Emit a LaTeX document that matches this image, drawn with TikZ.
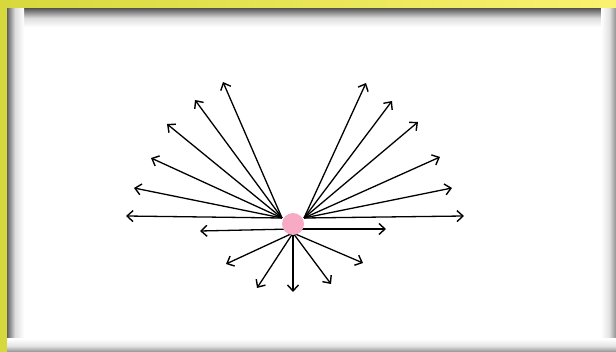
\documentclass[tikz,border=0pt]{standalone}
\usetikzlibrary{arrows.meta}

\definecolor{frameyellow}{RGB}{214,216,60}
\definecolor{frameyellowlight}{RGB}{250,242,112}
\definecolor{dotpink}{RGB}{248,170,196}
\definecolor{shadowgray}{RGB}{96,96,96}

\pgfdeclareverticalshading{edgetop}{100bp}{color(0bp)=(white); color(25bp)=(white); color(50bp)=(shadowgray!22); color(75bp)=(shadowgray); color(100bp)=(shadowgray)}
\pgfdeclareverticalshading{edgebottom}{100bp}{color(0bp)=(shadowgray!70); color(25bp)=(shadowgray!70); color(48bp)=(shadowgray!18); color(75bp)=(white); color(100bp)=(white)}
\pgfdeclarehorizontalshading{edgeleft}{100bp}{color(0bp)=(shadowgray); color(25bp)=(shadowgray); color(48bp)=(shadowgray!22); color(75bp)=(white); color(100bp)=(white)}
\pgfdeclarehorizontalshading{edgeright}{100bp}{color(0bp)=(white); color(25bp)=(white); color(52bp)=(shadowgray!18); color(75bp)=(shadowgray!70); color(100bp)=(shadowgray!70)}

\begin{document}
\begin{tikzpicture}[
  x=1pt, y=-1pt,
  ray/.style={line width=1.3pt, -{Straight Barb[length=6pt,width=11pt,line width=1.4pt]}},
  source/.style={circle, fill=dotpink, minimum size=22pt, inner sep=0pt}
]
  % frame and panel
  \useasboundingbox (0,0) rectangle (616,352);
  \shade[left color=frameyellow, right color=frameyellowlight] (0,0) rectangle (616,352);
  \fill[white] (7,9) rectangle (616,352);
  \shade[shading=edgetop] (7,9) rectangle (616,27);
  \shade[shading=edgeleft] (7,9) rectangle (24,352);
  \shade[shading=edgeright] (601,9) rectangle (616,352);
  \shade[shading=edgebottom] (7,339) rectangle (616,352);

  % hubs the rays leave from
  \coordinate (hubL) at (282,218);
  \coordinate (hubR) at (304,218);
  \coordinate (hubC) at (293,229);
  \coordinate (hubB) at (293,233);

  % ray tips, upper left fan
  \coordinate (ul1) at (223,82);
  \coordinate (ul2) at (195,100);
  \coordinate (ul3) at (167,124);
  \coordinate (ul4) at (151,158);
  \coordinate (ul5) at (134,188);
  \coordinate (ul6) at (126,216);
  % ray tips, upper right fan
  \coordinate (ur1) at (366,83);
  \coordinate (ur2) at (392,101);
  \coordinate (ur3) at (418,122);
  \coordinate (ur4) at (440,157);
  \coordinate (ur5) at (452,188);
  \coordinate (ur6) at (464,216);
  % ray tips, horizontal pair
  \coordinate (hl) at (200,231);
  \coordinate (hr) at (386,229);
  % ray tips, lower fan
  \coordinate (lo1) at (226,264);
  \coordinate (lo2) at (257,288);
  \coordinate (lo3) at (293,292);
  \coordinate (lo4) at (331,284);
  \coordinate (lo5) at (363,263);

  \draw[ray] (hubL) -- (ul1);
  \draw[ray] (hubL) -- (ul2);
  \draw[ray] (hubL) -- (ul3);
  \draw[ray] (hubL) -- (ul4);
  \draw[ray] (hubL) -- (ul5);
  \draw[ray] (hubL) -- (ul6);

  \draw[ray] (hubR) -- (ur1);
  \draw[ray] (hubR) -- (ur2);
  \draw[ray] (hubR) -- (ur3);
  \draw[ray] (hubR) -- (ur4);
  \draw[ray] (hubR) -- (ur5);
  \draw[ray] (hubR) -- (ur6);

  \draw[ray] (hubC) -- (hl);
  \draw[ray] (hubC) -- (hr);

  \draw[ray] (hubB) -- (lo1);
  \draw[ray] (hubB) -- (lo2);
  \draw[ray] (hubB) -- (lo3);
  \draw[ray] (hubB) -- (lo4);
  \draw[ray] (hubB) -- (lo5);

  % the source point
  \node[source] (src) at (293,224) {};
\end{tikzpicture}
\end{document}
